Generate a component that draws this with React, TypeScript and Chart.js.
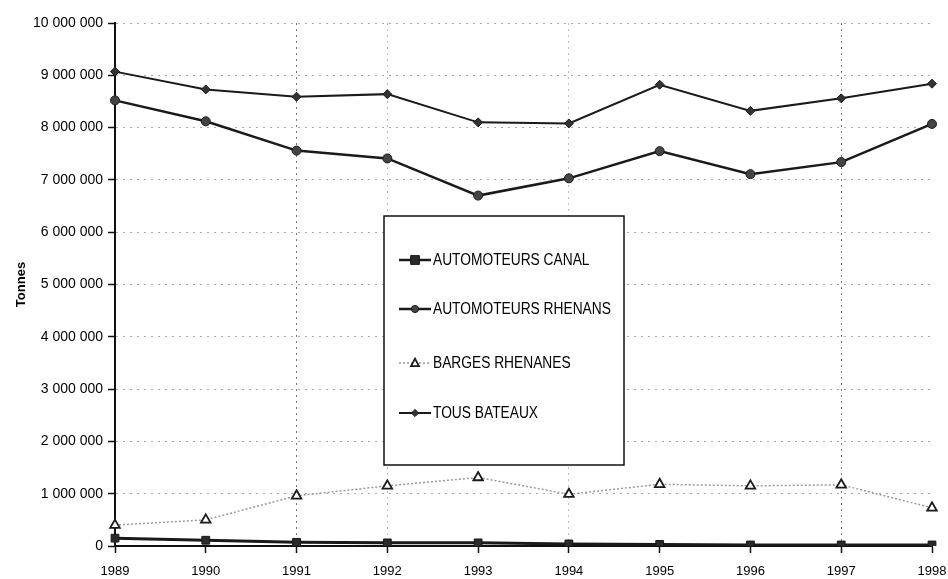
import React, { useEffect, useRef } from "react";
import { Chart, registerables } from "chart.js";

Chart.register(...registerables);

const years = ["1989", "1990", "1991", "1992", "1993", "1994", "1995", "1996", "1997", "1998"];
const automoteursCanal = [150000, 110000, 70000, 60000, 60000, 40000, 30000, 20000, 20000, 20000];
const automoteursRhenans = [8520000, 8120000, 7560000, 7410000, 6700000, 7030000, 7550000, 7110000, 7340000, 8070000];
const bargesRhenanes = [400000, 500000, 960000, 1150000, 1310000, 990000, 1180000, 1150000, 1170000, 730000];
const tousBateaux = [9070000, 8730000, 8590000, 8640000, 8100000, 8080000, 8820000, 8320000, 8560000, 8840000];
const seriesLabels = ["AUTOMOTEURS CANAL", "AUTOMOTEURS RHENANS", "BARGES RHENANES", "TOUS BATEAUX"];
const yAxisTitle = "Tonnes";

const fmt = (v: number) => String(v).replace(/\B(?=(\d{3})+(?!\d))/g, " ");

function drawMarker(ctx: CanvasRenderingContext2D, style: string, x: number, y: number, r: number, fill: string, stroke: string, lw: number) {
  ctx.save();
  ctx.beginPath();
  ctx.setLineDash([]);
  ctx.fillStyle = fill;
  ctx.strokeStyle = stroke;
  ctx.lineWidth = lw;
  if (style === "rect") {
    ctx.rect(x - r, y - r, 2 * r, 2 * r);
  } else if (style === "circle") {
    ctx.arc(x, y, r, 0, Math.PI * 2);
  } else if (style === "triangle") {
    ctx.moveTo(x, y - r);
    ctx.lineTo(x + r * 0.9, y + r * 0.7);
    ctx.lineTo(x - r * 0.9, y + r * 0.7);
    ctx.closePath();
  } else {
    ctx.moveTo(x, y - r);
    ctx.lineTo(x + r, y);
    ctx.lineTo(x, y + r);
    ctx.lineTo(x - r, y);
    ctx.closePath();
  }
  ctx.fill();
  ctx.stroke();
  ctx.restore();
}

const legendPlugin = {
  id: "boxLegend",
  afterDatasetsDraw(chart: any) {
    const ctx = chart.ctx as CanvasRenderingContext2D;
    const x0 = 384, y0 = 216, x1 = 624, y1 = 465;
    ctx.save();
    ctx.fillStyle = "#fff";
    ctx.fillRect(x0, y0, x1 - x0, y1 - y0);
    ctx.strokeStyle = "#111";
    ctx.lineWidth = 1.5;
    ctx.strokeRect(x0, y0, x1 - x0, y1 - y0);
    const ys = [260, 309, 363, 413];
    chart.data.datasets.forEach((ds: any, i: number) => {
      const y = ys[i];
      ctx.save();
      ctx.beginPath();
      ctx.strokeStyle = ds.borderColor;
      ctx.lineWidth = Math.min(ds.borderWidth, 2.5);
      ctx.setLineDash(ds.borderDash || []);
      ctx.moveTo(399, y);
      ctx.lineTo(431, y);
      ctx.stroke();
      ctx.restore();
      drawMarker(ctx, ds.pointStyle, 415, y, ds.pointRadius * 0.8, ds.pointBackgroundColor, ds.pointBorderColor, ds.pointBorderWidth);
      ctx.fillStyle = "#000";
      ctx.font = '16px "Liberation Sans", Arial';
      ctx.textBaseline = "middle";
      ctx.textAlign = "left";
      const w = ctx.measureText(ds.label).width;
      ctx.fillText(ds.label, 433, y + 1, w * 0.86);
    });
    ctx.restore();
  },
};

export default function App() {
  const ref = useRef<HTMLCanvasElement>(null);
  useEffect(() => {
    if (!ref.current) return;
    const chart = new Chart(ref.current, {
      type: "line",
      data: {
        labels: years,
        datasets: [
          {
            label: seriesLabels[0],
            data: automoteursCanal,
            borderColor: "#1a1a1a",
            borderWidth: 3,
            pointStyle: "rect",
            pointRadius: 5.5,
            pointBackgroundColor: "#2a2a2a",
            pointBorderColor: "#1a1a1a",
            pointBorderWidth: 1,
          },
          {
            label: seriesLabels[1],
            data: automoteursRhenans,
            borderColor: "#1a1a1a",
            borderWidth: 2.5,
            pointStyle: "circle",
            pointRadius: 4.5,
            pointBackgroundColor: "#444",
            pointBorderColor: "#1a1a1a",
            pointBorderWidth: 1,
          },
          {
            label: seriesLabels[2],
            data: bargesRhenanes,
            borderColor: "#9a9a9a",
            borderWidth: 1.5,
            borderDash: [2, 2],
            pointStyle: "triangle",
            pointRadius: 5.5,
            pointBackgroundColor: "#fff",
            pointBorderColor: "#1a1a1a",
            pointBorderWidth: 1.8,
          },
          {
            label: seriesLabels[3],
            data: tousBateaux,
            borderColor: "#1a1a1a",
            borderWidth: 2,
            pointStyle: "rectRot",
            pointRadius: 4.5,
            pointBackgroundColor: "#333",
            pointBorderColor: "#1a1a1a",
            pointBorderWidth: 1,
          },
        ],
      },
      options: {
        responsive: false,
        animation: false,
        layout: { padding: { top: 23, right: 0, left: 10, bottom: 0 } },
        plugins: { legend: { display: false }, tooltip: { enabled: false } },
        elements: { line: { tension: 0 } },
        scales: {
          x: {
            offset: false,
            border: { color: "#111", width: 2, dash: [2, 4] },
            grid: {
              color: (c: any) => {
                const i = c.index;
                if (i === 2 || i === 8) return "#777";
                if (i === 3 || i === 5) return "#bbb";
                return "rgba(0,0,0,0)";
              },
              lineWidth: 1,
              tickColor: "#111",
              tickLength: 7,
              tickWidth: 1.5,
              tickBorderDash: [],
            },
            ticks: {
              color: "#000",
              font: { family: '"Liberation Sans", Arial', size: 13 },
              padding: 11,
              maxRotation: 0,
              autoSkip: false,
            },
            afterFit: (s: any) => { s.height = 33; s.paddingRight = 16; s.paddingLeft = 0; },
          },
          y: {
            min: 0,
            max: 10000000,
            border: { color: "#111", width: 2, dash: [2, 5] },
            grid: {
              color: "#aaa",
              lineWidth: 1,
              tickColor: "#111",
              tickLength: 7,
              tickWidth: 1.5,
              tickBorderDash: [],
            },
            ticks: {
              stepSize: 1000000,
              color: "#000",
              font: { family: '"Liberation Sans", Arial', size: 14 },
              padding: 5,
              callback: (v: any) => fmt(Number(v)),
            },
            title: {
              display: true,
              text: yAxisTitle,
              color: "#000",
              font: { family: '"Liberation Sans", Arial', size: 13, weight: "bold" },
              padding: { top: 4, bottom: 4 },
            },
            afterFit: (s: any) => { s.width = 105; },
          },
        },
      },
      plugins: [legendPlugin],
    } as any);
    return () => chart.destroy();
  }, []);
  return (
    <div style={{ position: "absolute", left: 0, top: 0, width: 948, height: 579, background: "#fff" }}>
      <canvas ref={ref} width={948} height={579} style={{ display: "block" }} />
    </div>
  );
}
